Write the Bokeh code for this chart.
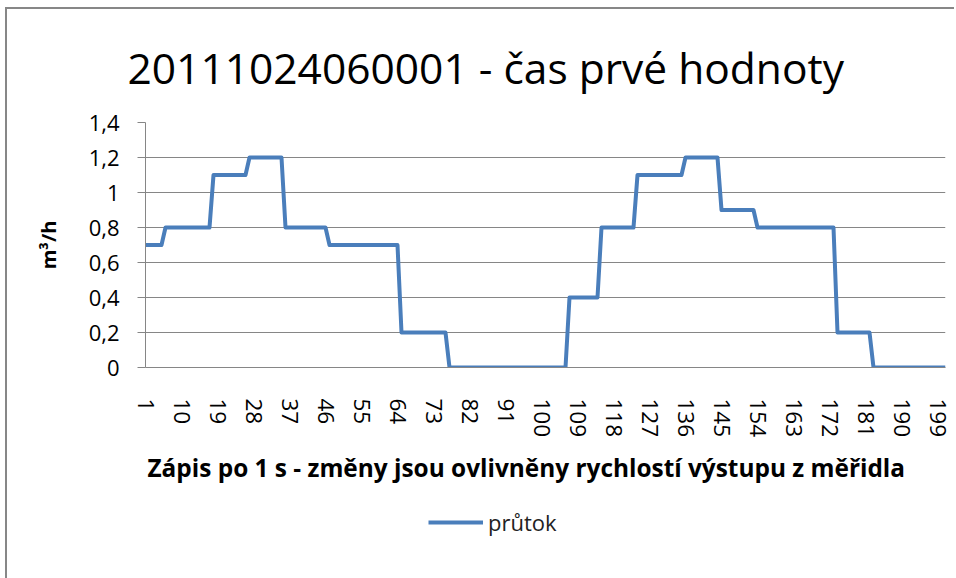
from bokeh.plotting import figure
from bokeh.layouts import column
from bokeh.models import Range1d, FixedTicker, Title, Legend, LegendItem, ColumnDataSource
from bokeh.embed import file_html
from bokeh.resources import INLINE

title_text = "20111024060001 - čas prvé hodnoty"
x_label = "Zápis po 1 s - změny jsou ovlivněny rychlostí výstupu z měřidla"
y_label = "m³/h"
series_name = "průtok"

x_ticks = [1, 10, 19, 28, 37, 46, 55, 64, 73, 82, 91, 100, 109, 118, 127,
           136, 145, 154, 163, 172, 181, 190, 199]
y_ticks = [0, 0.2, 0.4, 0.6, 0.8, 1.0, 1.2, 1.4]
y_tick_labels = ["0", "0,2", "0,4", "0,6", "0,8", "1", "1,2", "1,4"]

# flow values (run by run)
flow = ([0.7] * 5 + [0.8] * 12 + [1.1] * 9 + [1.2] * 9 + [0.8] * 11 + [0.7] * 18
        + [0.2] * 12 + [0.0] * 30 + [0.4] * 8 + [0.8] * 9 + [1.1] * 12 + [1.2] * 9
        + [0.9] * 9 + [0.8] * 20 + [0.2] * 9 + [0.0] * 19)
record = list(range(1, len(flow) + 1))

FONT = "Open Sans"
GRID = "#868686"
LINE = "#4A7EBB"

src = ColumnDataSource(data=dict(record=record, flow=flow))

p = figure(frame_width=800, frame_height=245, output_backend="svg", toolbar_location=None,
           x_range=Range1d(1, len(flow)), y_range=Range1d(0, 1.4),
           min_border_left=138, min_border_right=11, min_border_top=113,
           min_border_bottom=130)
p.margin = (9, 0, 0, 7)
p.styles = {"box-shadow": "-2px -2px 0 0 #878787, -2px 0 0 0 #878787"}
p.outline_line_color = None
p.background_fill_color = "white"
p.border_fill_color = "white"

p.title.text = title_text
p.title.align = "left"
p.title.offset = -18
p.title.text_font = FONT
p.title.text_font_size = "42.5px"
p.title.text_font_style = "normal"
p.title.text_color = "black"
p.title.standoff = 53

r = p.line(x="record", y="flow", source=src, line_color=LINE, line_width=4,
           line_join="round")

p.xgrid.visible = False
p.ygrid.ticker = FixedTicker(ticks=y_ticks)
p.ygrid.grid_line_color = GRID

ya = p.yaxis[0]
ya.ticker = FixedTicker(ticks=y_ticks)
ya.major_label_overrides = dict(zip(y_ticks, y_tick_labels))
ya.axis_line_color = GRID
ya.major_tick_line_color = GRID
ya.major_tick_out = 8
ya.major_tick_in = 0
ya.minor_tick_line_color = None
ya.major_label_text_font = FONT
ya.major_label_text_font_size = "22px"
ya.major_label_text_color = "black"
ya.major_label_standoff = 18
ya.axis_label = y_label
ya.axis_label_text_font = FONT
ya.axis_label_text_font_size = "20px"
ya.axis_label_text_font_style = "bold"
ya.axis_label_text_color = "black"
ya.axis_label_standoff = 24

xa = p.xaxis[0]
xa.ticker = FixedTicker(ticks=x_ticks)
xa.major_label_orientation = "vertical"
xa.axis_line_color = GRID
xa.major_tick_line_color = None
xa.minor_tick_line_color = None
xa.major_label_text_font = FONT
xa.major_label_text_font_size = "22.5px"
xa.major_label_text_color = "black"
xa.major_label_standoff = 25

xt = Title(text=x_label, align="left", offset=2, text_font=FONT, text_font_size="24.4px",
           text_font_style="bold", text_color="black", standoff=16)
p.add_layout(xt, "below")

# legend strip below the chart (same chart area, continued); its frame is
# aligned with the chart's frame by the column layout
lg = figure(width=949, height=81, output_backend="svg", toolbar_location=None,
            x_axis_type=None, y_axis_type=None,
            x_range=Range1d(-20, -10), y_range=Range1d(0, 1),
            min_border_left=0, min_border_right=0, min_border_top=0, min_border_bottom=0)
lg.margin = (0, 0, 0, 7)
lg.styles = {"box-shadow": "-2px 0 0 0 #878787"}
lg.outline_line_color = None
lg.background_fill_color = "white"
lg.border_fill_color = "white"
lg.title.visible = False

proxy = lg.line(x="record", y="flow", source=src, line_color=LINE, line_width=4)

legend = Legend(items=[LegendItem(label=series_name, renderers=[proxy])],
                location=(283, 41), orientation="horizontal",
                glyph_width=55, glyph_height=30, label_height=30, label_standoff=5,
                padding=0, margin=0, spacing=0, border_line_color=None,
                background_fill_alpha=0, label_text_font=FONT,
                label_text_font_size="22px", label_text_color="#222222")
lg.add_layout(legend)

layout = column(p, lg, spacing=0)

open("out.html", "w").write(file_html(layout, INLINE))
